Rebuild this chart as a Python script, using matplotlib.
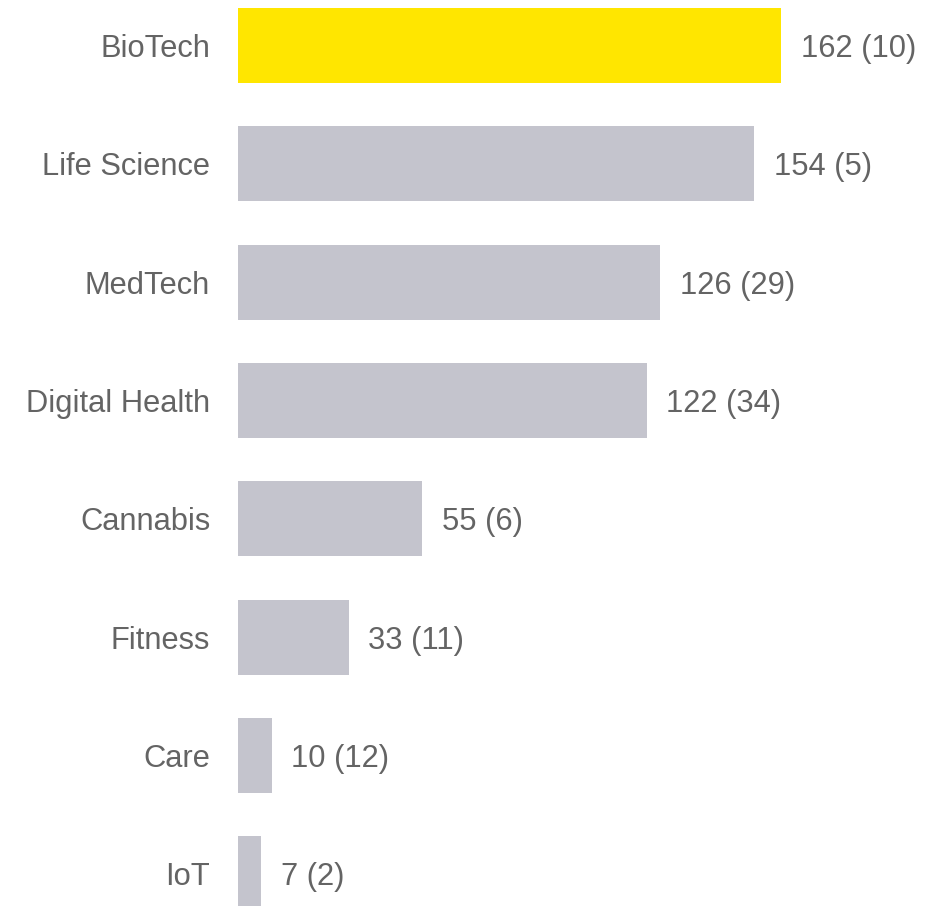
import matplotlib.pyplot as plt

# sectors, number of deals (number in brackets)
sectors = ['BioTech', 'Life Science', 'MedTech', 'Digital Health',
           'Cannabis', 'Fitness', 'Care', 'IoT']
values = [162, 154, 126, 122, 55, 33, 10, 7]
counts = [10, 5, 29, 34, 6, 11, 12, 2]

yellow = '#FFE600'
grey = '#C4C4CD'
text_col = '#646464'

plt.rcParams['font.family'] = ['Liberation Sans', 'DejaVu Sans']

fig = plt.figure(figsize=(9.31, 9.06), dpi=100)
ax = fig.add_axes([238 / 931, 0, (931 - 238) / 931, 1])

colors = [yellow] + [grey] * (len(sectors) - 1)
pos = list(range(len(sectors)))
bars = ax.barh(pos, values, height=0.634, color=colors)

labels = [f'{v} ({c})' for v, c in zip(values, counts)]
txts = ax.bar_label(bars, labels=labels, padding=14, fontsize=22.2, color=text_col)
for t in txts:
    t.set_va('center_baseline')

ax.set_yticks(pos)
ax.set_yticklabels(sectors, fontsize=22.2, color=text_col)
ax.tick_params(axis='y', length=0, pad=20)
ax.set_xticks([])
ax.set_xlim(0, 206.7)
ax.set_ylim(7.274, -0.385)
for s in ax.spines.values():
    s.set_visible(False)

fig.savefig('out.png', dpi=100)
